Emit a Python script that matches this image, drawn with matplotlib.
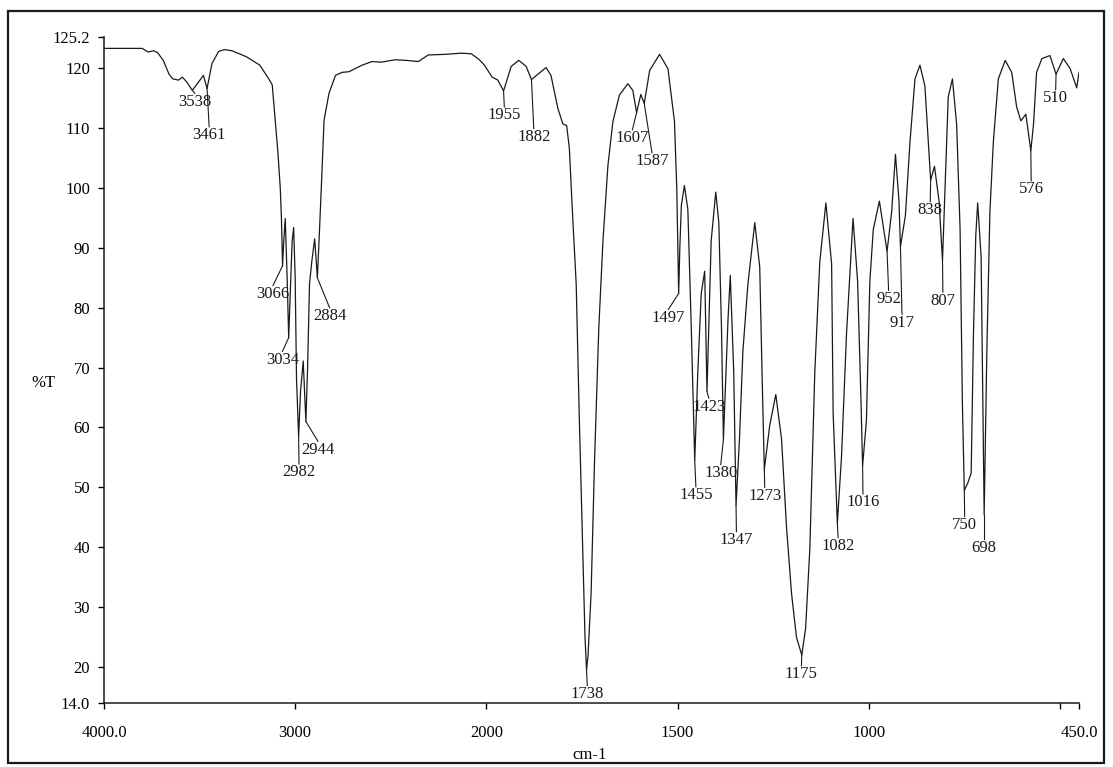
import numpy as np
import matplotlib
matplotlib.use("Agg")
import matplotlib.pyplot as plt
from matplotlib.patches import Rectangle
from matplotlib.ticker import FixedLocator, FixedFormatter

plt.rcParams['font.family'] = ['Liberation Serif', 'DejaVu Serif']

# IR trace: wavenumber (cm-1) and %T
wavenumber = [4000, 3800, 3770, 3740, 3720, 3690, 3660, 3640, 3610, 3590, 3565, 3538,
              3505, 3480, 3461, 3435, 3400, 3370, 3330, 3255, 3185, 3140, 3120, 3105,
              3090, 3078, 3072, 3066, 3060, 3052, 3042, 3034, 3026, 3016, 3008, 3000,
              2993, 2982, 2972, 2958, 2944, 2935, 2925, 2912, 2898, 2884, 2874, 2861,
              2849, 2823, 2789, 2754, 2719, 2650, 2598, 2550, 2477, 2420, 2356, 2304,
              2218, 2131, 2079, 2040, 2010, 1985, 1970, 1955, 1935, 1915, 1896, 1882,
              1861, 1844, 1831, 1813, 1800, 1790, 1783, 1774, 1765, 1757, 1748, 1742,
              1738, 1734, 1726, 1717, 1706, 1695, 1682, 1669, 1652, 1630, 1617, 1607,
              1596, 1587, 1573, 1547, 1525, 1508, 1502, 1497, 1494, 1490, 1482, 1473,
              1464, 1455, 1447, 1438, 1429, 1423, 1412, 1400, 1392, 1385, 1380, 1368,
              1362, 1353, 1347, 1338, 1329, 1316, 1298, 1285, 1279, 1273, 1259, 1243,
              1228, 1215, 1202, 1189, 1175, 1165, 1154, 1141, 1128, 1112, 1097, 1093,
              1082, 1071, 1058, 1045, 1041, 1029, 1020, 1016, 1006, 997, 988, 972,
              958, 952, 940, 930, 921, 917, 904, 892, 879, 866, 853, 838,
              828, 816, 807, 801, 792, 781, 770, 761, 755, 750, 741, 732,
              726, 720, 715, 706, 698, 691, 683, 674, 661, 643, 626, 613,
              602, 589, 576, 569, 561, 547, 526, 510, 491, 473, 456, 450]
transmittance = [123.3, 123.3, 122.7, 122.9, 122.6, 121.3, 119.0, 118.2, 118.0, 118.5, 117.6, 116.3,
                 117.7, 118.8, 116.6, 120.8, 122.8, 123.1, 122.9, 121.9, 120.5, 118.3, 117.2, 111.5,
                 105.8, 100.0, 95.0, 87.0, 91.0, 94.9, 85.0, 75.0, 82.0, 91.0, 93.4, 85.0,
                 68.1, 58.5, 66.0, 71.1, 61.0, 70.0, 84.0, 88.0, 91.5, 85.0, 92.0, 101.8,
                 111.3, 115.8, 118.8, 119.3, 119.4, 120.5, 121.1, 121.0, 121.4, 121.3, 121.1, 122.2,
                 122.3, 122.5, 122.4, 121.5, 120.5, 118.5, 118.0, 116.2, 120.3, 121.3, 120.3, 118.1,
                 119.2, 120.1, 118.8, 113.3, 110.7, 110.4, 106.7, 94.9, 83.9, 61.8, 39.7, 25.0,
                 19.5, 22.0, 32.4, 54.5, 76.5, 91.2, 103.8, 111.1, 115.5, 117.4, 116.3, 112.6,
                 115.6, 114.1, 119.6, 122.3, 119.9, 111.1, 100.0, 82.4, 90.0, 97.1, 100.4, 96.4,
                 76.5, 54.5, 69.2, 82.4, 86.1, 66.0, 91.2, 99.3, 94.2, 76.5, 58.0, 78.0,
                 85.4, 69.2, 47.0, 58.1, 72.8, 83.9, 94.2, 86.8, 69.2, 53.0, 60.3, 65.5,
                 58.1, 43.4, 32.4, 25.0, 22.0, 26.5, 39.7, 69.2, 87.6, 97.5, 87.3, 62.3,
                 44.0, 55.3, 75.7, 90.2, 94.9, 84.4, 64.0, 53.6, 61.1, 84.4, 93.1, 97.8,
                 92.0, 89.4, 96.0, 105.6, 98.0, 90.2, 95.4, 107.7, 118.2, 120.5, 117.0, 101.3,
                 103.6, 97.8, 87.9, 99.0, 115.2, 118.2, 110.6, 93.1, 64.0, 49.5, 50.7, 52.4,
                 75.7, 92.0, 97.5, 88.5, 45.4, 72.8, 96.0, 107.7, 118.2, 121.3, 119.3, 113.5,
                 111.2, 112.3, 106.2, 110.6, 119.3, 121.6, 122.1, 119.0, 121.6, 119.9, 116.7, 119.3]

# peak annotations: peak position, where the number sits
peaks = [3538, 3461, 3066, 3034, 2982, 2944, 2884, 1955, 1882, 1738, 1607, 1587,
         1497, 1455, 1423, 1380, 1347, 1273, 1175, 1082, 1016, 952, 917, 838,
         807, 750, 698, 576, 510]
label_x = [3525, 3450, 3116, 3067, 2980, 2881, 2820, 1953, 1876, 1736, 1618, 1567,
           1524, 1452, 1418, 1387, 1346, 1272, 1176, 1080, 1015, 948, 913, 839,
           806, 749, 698, 575, 511]
label_y = [114.4, 108.8, 82.3, 71.3, 52.5, 56.3, 78.6, 112.1, 108.5, 15.5, 108.3, 104.5,
           78.3, 48.7, 63.5, 52.4, 41.2, 48.6, 18.8, 40.2, 47.5, 81.5, 77.5, 96.3,
           81.2, 43.7, 39.9, 99.8, 115.0]

xtick_vals = [4000, 3000, 2000, 1500, 1000, 500, 450]
xtick_text = ["4000.0", "3000", "2000", "1500", "1000", "", "450.0"]
ytick_vals = [14.0, 20, 30, 40, 50, 60, 70, 80, 90, 100, 110, 120, 125.2]
ytick_text = ["14.0", "20", "30", "40", "50", "60", "70", "80", "90", "100", "110", "120", "125.2"]


# instrument plot uses double scale expansion below 2000 cm-1
def fwd(x):
    x = np.asarray(x, dtype=float)
    return np.where(x >= 2000, x, 2 * x - 2000)


def inv(u):
    u = np.asarray(u, dtype=float)
    return np.where(u >= 2000, u, (u + 2000) / 2)


fig = plt.figure(figsize=(11.13, 7.67), dpi=100)
ax = fig.add_axes([104 / 1113, 1 - 703 / 767, 975 / 1113, 666 / 767])

ax.set_xscale('function', functions=(fwd, inv))
ax.plot(wavenumber, transmittance, color='#1a1a1a', lw=0.9)
ax.set_xlim(4000, 450)
ax.set_ylim(14.0, 125.2)

wn_sorted = np.array(wavenumber[::-1], dtype=float)
t_sorted = np.array(transmittance[::-1], dtype=float)
fs = 12
for p, lx, ly in zip(peaks, label_x, label_y):
    pt = np.interp(p, wn_sorted, t_sorted)
    ax.plot([p, lx], [pt, ly + 1.4], color='#1a1a1a', lw=0.8)
    ax.text(lx, ly, str(p), ha='center', va='center', fontsize=fs, color='#1a1a1a')

ax.xaxis.set_major_locator(FixedLocator(xtick_vals))
ax.xaxis.set_major_formatter(FixedFormatter(xtick_text))
ax.yaxis.set_major_locator(FixedLocator(ytick_vals))
ax.yaxis.set_major_formatter(FixedFormatter(ytick_text))
ax.xaxis.set_minor_locator(FixedLocator([]))
ax.tick_params(axis='x', direction='out', length=4, width=1, pad=12, labelsize=fs)
ax.tick_params(axis='y', direction='out', length=4, width=1, pad=6, labelsize=fs)

ax.spines['top'].set_visible(False)
ax.spines['right'].set_visible(False)
for s in ['left', 'bottom']:
    ax.spines[s].set_linewidth(1.1)
    ax.spines[s].set_color('#1a1a1a')

fig.text(43 / 1113, 1 - 383 / 767, "%T", ha='center', va='center', fontsize=fs)
fig.text(590 / 1113, 1 - 755 / 767, "cm-1", ha='center', va='center', fontsize=fs)

fig.patches.append(Rectangle((8 / 1113, 4 / 767), 1096 / 1113, 752 / 767,
                             transform=fig.transFigure, fill=False,
                             edgecolor='#1a1a1a', lw=1.6))

fig.savefig("out.png", dpi=100)
